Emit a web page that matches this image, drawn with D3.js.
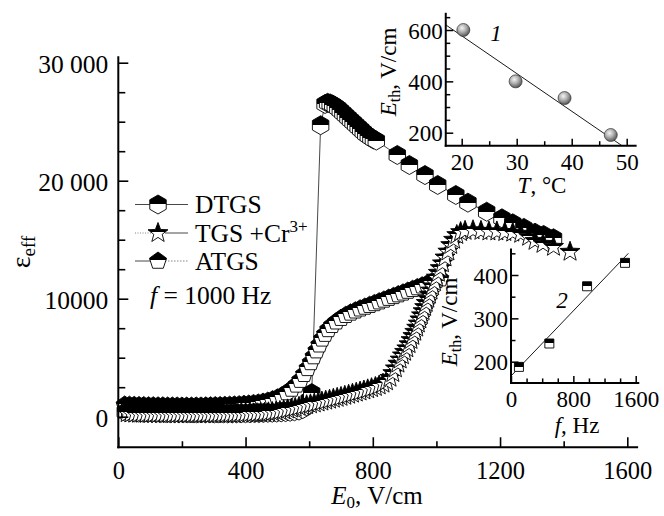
<!DOCTYPE html>
<html><head><meta charset="utf-8">
<script src="https://cdn.jsdelivr.net/npm/d3@7"></script>
<style>
body{margin:0;background:#fff;}
svg{display:block;}
</style></head><body>
<svg id="c" width="664" height="516"></svg>
<script>
// ---------------- data ----------------
// main chart: [E0 (V/cm), eps_eff]
const dtgs = [[22,400],[36,380],[50,360],[64,350],[78,340],[92,340],[106,330],[120,330],[134,320],[148,320],
  [162,310],[176,310],[190,300],[204,300],[218,300],[232,300],[246,290],[260,290],[274,290],[288,290],
  [302,280],[316,290],[330,290],[344,280],[358,280],[372,290],[386,290],[400,300],[414,300],[428,310],
  [442,310],[456,320],[470,330],[484,340],[498,350],[512,370],[526,390],[540,420],[554,460],[568,520],
  [580,650],[592,900],[600,1400],[608,2000],[636,24700],
  [650,26500],[658,26600],[666,26550],[674,26450],[682,26300],[690,26150],[698,25950],[706,25750],[714,25550],
  [722,25350],[730,25150],[738,24950],[746,24750],[754,24550],[762,24350],[770,24150],[778,23950],[786,23800],
  [794,23650],[802,23500],[811,23400],
  [877,22180],[915,21330],[964,20480],[1004,19640],[1061,18790],[1099,18140],[1158,17370],[1206,16810],
  [1240,16390],[1275,16000],[1310,15590],[1337,15400],[1368,15120]];
const tgsCr = [[28,300],[40,280],[52,260],[64,250],[76,250],[88,240],[100,240],[112,240],[124,230],[136,230],
  [148,230],[160,230],[172,220],[184,220],[196,220],[208,220],[220,220],[232,220],[244,220],[256,220],
  [268,230],[280,230],[292,230],[304,230],[316,240],[328,240],[340,240],[352,250],[364,250],[376,260],
  [388,260],[400,270],[412,280],[424,290],[436,300],[448,320],[460,340],[472,370],[484,400],[496,440],
  [508,490],[520,550],[532,620],[544,690],[556,760],[568,840],[580,910],[592,980],[604,1050],[616,1120],
  [628,1200],[640,1280],[652,1360],[664,1440],[676,1520],[688,1600],[700,1680],[712,1770],[724,1860],
  [736,1950],[748,2040],[760,2130],[772,2220],[784,2320],[796,2420],[808,2520],[820,2650],[832,2800],
  [843,3000],[854,3300],[863,3700],[871,4100],[879,4500],[886,4850],[893,5200],[900,5500],[907,5800],
  [914,6150],[920,6500],[926,6850],[932,7200],[938,7550],[943,7900],[948,8250],[953,8600],[958,8950],
  [963,9300],[968,9650],[973,10000],[978,10350],[983,10700],[988,11050],[994,11400],[1000,11800],
  [1006,12200],[1012,12600],[1019,13000],[1027,13500],[1036,14000],[1045,14550],[1054,15000],[1064,15400],
  [1076,15650],[1090,15750],[1115,15800],[1140,15750],[1165,15700],[1190,15700],[1215,15650],[1240,15600],
  [1265,15500],[1290,15250],[1310,14900],[1335,14650],[1368,14400],[1420,13980]];
const atgs = [[20,1000],[35,980],[50,960],[65,950],[80,940],[95,930],[110,930],[125,920],[140,920],[155,910],
  [170,910],[185,910],[200,900],[215,900],[230,900],[245,910],[260,910],[275,920],[290,930],[305,940],
  [320,950],[335,960],[350,980],[365,1000],[380,1020],[395,1050],[410,1080],[425,1120],[440,1170],[455,1240],
  [470,1330],[485,1450],[500,1600],[515,1800],[530,2050],[545,2350],[560,2700],[572,3100],[584,3600],
  [595,4100],[605,4600],[614,5100],[623,5600],[632,6100],[641,6600],[650,7000],[660,7400],[672,7750],
  [685,8050],[700,8350],[715,8600],[730,8800],[745,8980],[760,9150],[775,9300],[790,9450],[805,9600],
  [820,9750],[835,9900],[850,10050],[865,10200],[880,10350],[895,10500],[910,10650],[925,10800],[940,10950],
  [955,11100],[970,11250],[985,11400],[1000,11550],[1012,11700]];
const seriesNames = ["DTGS", "TGS +Cr", "ATGS"];
const freqNote = "= 1000 Hz";
const xTicks = [0, 400, 800, 1200, 1600];
const xMinor = [200, 600, 1000, 1400];
const yTicks = [0, 10000, 20000, 30000];
const yTickLabels = ["0", "10000", "20 000", "30 000"];
const yMinor = [2500, 5000, 7500, 12500, 15000, 17500, 22500, 25000, 27500];
const xExtent = [0, 1634];
const yExtent = [-2590, 30550];

// inset 1: E_th vs T
const in1T = [20.3, 29.8, 38.7, 47.1];
const in1E = [600, 400, 335, 191];
const in1FitT = [17.1, 49.1];
const in1FitE = [620, 150];
const in1XTicks = [20, 30, 40, 50];
const in1XMinor = [25, 35, 45];
const in1YTicks = [200, 400, 600];
const in1YMinor = [250, 300, 350, 450, 500, 550, 650];
const in1XExtent = [17.1, 51.8];
const in1YExtent = [149.4, 667];

// inset 2: E_th vs f
const in2F = [102, 492, 976, 1463];
const in2E = [188, 242, 374, 428];
const in2FitF = [0, 1506];
const in2FitE = [167, 450];
const in2XTicks = [0, 800, 1600];
const in2XMinor = [200, 400, 600, 1000, 1200, 1400];
const in2YTicks = [200, 300, 400];
const in2YMinor = [250, 350, 450];
const in2XExtent = [0, 1646];
const in2YExtent = [151, 461];

// ---------------- drawing ----------------
const FONT = "Liberation Serif";
const svg = d3.select("#c");
const defs = svg.append("defs");
const hg = defs.append("linearGradient").attr("id","half").attr("x1",0).attr("y1",0).attr("x2",0).attr("y2",1);
[["0","#000"],["0.5","#000"],["0.5","#fff"],["1","#fff"]].forEach(s=>hg.append("stop").attr("offset",s[0]).attr("stop-color",s[1]));
const rg = defs.append("radialGradient").attr("id","sph").attr("cx",0.4).attr("cy",0.35).attr("r",0.7);
[["0","#f4f4f4"],["0.45","#b0b0b0"],["1","#4a4a4a"]].forEach(s=>rg.append("stop").attr("offset",s[0]).attr("stop-color",s[1]));

function polyPath(n, r){
  const p = d3.path();
  for(let i=0;i<n;i++){const a=-Math.PI/2+i*2*Math.PI/n; const px=r*Math.cos(a), py=r*Math.sin(a); i?p.lineTo(px,py):p.moveTo(px,py);}
  p.closePath(); return p.toString();
}
function starPath(R, r){
  const p = d3.path();
  for(let i=0;i<10;i++){const a=-Math.PI/2+i*Math.PI/5; const rr=i%2?r:R; const px=rr*Math.cos(a), py=rr*Math.sin(a); i?p.lineTo(px,py):p.moveTo(px,py);}
  p.closePath(); return p.toString();
}
const hexD = polyPath(6, 9.5);
const pentD = polyPath(5, 9);
const starD = starPath(10.5, 4.4);
const sqD = "M-4.5,-4.5H4.5V4.5H-4.5Z";

const x = d3.scaleLinear().domain([0,1600]).range([118.3,627.3]);
const y = d3.scaleLinear().domain([0,30000]).range([416.7,62.7]);

// series lines
const line = d3.line().x(d=>x(d[0])).y(d=>y(d[1]));
const gl = svg.append("g").attr("fill","none");
gl.append("path").datum(atgs).attr("d",line).attr("stroke","#555").attr("stroke-width",0.8).attr("stroke-dasharray","3,2");
gl.append("path").datum(tgsCr).attr("d",line).attr("stroke","#777").attr("stroke-width",0.8).attr("stroke-dasharray","1,1.5");
gl.append("path").datum(dtgs).attr("d",line).attr("stroke","#333").attr("stroke-width",0.9);

function drawMarkers(data, d, cls){
  svg.append("g").attr("class",cls).selectAll("path").data(data).join("path")
    .attr("d", d).attr("transform", p=>`translate(${x(p[0])},${y(p[1])})`)
    .attr("fill","url(#half)").attr("stroke","#000").attr("stroke-width",0.9);
}
drawMarkers(atgs, pentD, "atgs");
drawMarkers(dtgs, hexD, "dtgs");
drawMarkers(tgsCr, starD, "tgs");

// main axes
const axW = 2;
const gx = svg.append("g").attr("transform",`translate(0,${y(yExtent[0])})`);
gx.call(d3.axisBottom(x).tickValues(xTicks).tickSize(-10).tickPadding(14).tickFormat(d3.format("d")));
gx.append("g").call(d3.axisBottom(x).tickValues(xMinor).tickSize(-6).tickFormat(""));
gx.selectAll(".domain").remove();
gx.selectAll("line").attr("stroke","#000").attr("stroke-width",1.6);
gx.selectAll("text").attr("font-size",24.5).attr("fill","#000");
svg.append("line").attr("x1",x(xExtent[0])-1).attr("x2",x(xExtent[1])).attr("y1",y(yExtent[0])).attr("y2",y(yExtent[0])).attr("stroke","#000").attr("stroke-width",axW);

const gy = svg.append("g").attr("transform",`translate(${x(0)},0)`);
gy.call(d3.axisLeft(y).tickValues(yTicks).tickSize(-10).tickPadding(10).tickFormat((d,i)=>yTickLabels[i]));
gy.append("g").call(d3.axisLeft(y).tickValues(yMinor).tickSize(-7).tickFormat(""));
gy.selectAll(".domain").remove();
gy.selectAll("line").attr("stroke","#000").attr("stroke-width",1.6);
gy.selectAll("text").attr("font-size",25.5).attr("fill","#000").attr("dy","0.4em");
svg.append("line").attr("x1",x(0)).attr("x2",x(0)).attr("y1",y(yExtent[0])+1).attr("y2",y(yExtent[1])).attr("stroke","#000").attr("stroke-width",axW);

// axis titles
const xt = svg.append("text").attr("x",377).attr("y",504).attr("text-anchor","middle").attr("font-size",25);
xt.append("tspan").attr("font-style","italic").text("E");
xt.append("tspan").attr("font-size",17).attr("dy",4).text("0");
xt.append("tspan").attr("dy",-4).text(", V/cm");

const yt = svg.append("text").attr("transform","translate(30,252) rotate(-90)").attr("text-anchor","middle").attr("font-size",28);
yt.append("tspan").text("ε");
yt.append("tspan").attr("font-size",19).attr("dy",5).text("eff");

// legend
const lg = svg.append("g").attr("font-size",25.5);
const rows = [{y:204.5, d:hexD, name:seriesNames[0], l:[null,null]},
              {y:233, d:starD, name:seriesNames[1], l:["1,1.5",null]},
              {y:261, d:pentD, name:seriesNames[2], l:[null,"1.5,1.5"]}];
rows.forEach(r=>{
  lg.append("line").attr("x1",135).attr("x2",151).attr("y1",r.y).attr("y2",r.y).attr("stroke",r.l[0]?"#777":"#333").attr("stroke-width",0.9).attr("stroke-dasharray",r.l[0]);
  lg.append("line").attr("x1",165).attr("x2",188).attr("y1",r.y).attr("y2",r.y).attr("stroke",r.l[1]?"#777":"#333").attr("stroke-width",0.9).attr("stroke-dasharray",r.l[1]);
  lg.append("path").attr("d",r.d).attr("transform",`translate(158,${r.y})`).attr("fill","url(#half)").attr("stroke","#000").attr("stroke-width",0.9);
  const t = lg.append("text").attr("x",195).attr("y",r.y+8.5).text(r.name);
  if(r.name==="TGS +Cr") t.append("tspan").attr("font-size",17).attr("dy",-10).text("3+");
});
const fn = lg.append("text").attr("x",150).attr("y",304);
fn.append("tspan").attr("font-style","italic").text("f");
fn.append("tspan").text(" " + freqNote);

// generic inset axes
function insetAxes(sx, sy, xExt, yExt, xT, xM, yT, yM, fs){
  const g = svg.append("g");
  const ax = g.append("g").attr("transform",`translate(0,${sy(yExt[0])})`);
  ax.call(d3.axisBottom(sx).tickValues(xT).tickSize(-7).tickPadding(8).tickFormat(d3.format("d")));
  ax.append("g").call(d3.axisBottom(sx).tickValues(xM).tickSize(-4.5).tickFormat(""));
  const ay = g.append("g").attr("transform",`translate(${sx(xExt[0])},0)`);
  ay.call(d3.axisLeft(sy).tickValues(yT).tickSize(-7.5).tickPadding(3).tickFormat(d3.format("d")));
  ay.append("g").call(d3.axisLeft(sy).tickValues(yM).tickSize(-4.5).tickFormat(""));
  g.selectAll(".domain").remove();
  g.selectAll("line").attr("stroke","#000").attr("stroke-width",1.5);
  g.selectAll("text").attr("font-size",fs).attr("fill","#000");
  ay.selectAll("text").attr("dy","0.36em");
  g.append("line").attr("x1",sx(xExt[0])-1).attr("x2",sx(xExt[1])).attr("y1",sy(yExt[0])).attr("y2",sy(yExt[0])).attr("stroke","#000").attr("stroke-width",2);
  g.append("line").attr("x1",sx(xExt[0])).attr("x2",sx(xExt[0])).attr("y1",sy(yExt[0])+1).attr("y2",sy(yExt[1])).attr("stroke","#000").attr("stroke-width",2);
}
function ethTitle(cx, cy){
  const t = svg.append("text").attr("transform",`translate(${cx},${cy}) rotate(-90)`).attr("text-anchor","middle").attr("font-size",23);
  t.append("tspan").attr("font-style","italic").text("E");
  t.append("tspan").attr("font-size",16).attr("dy",4).text("th");
  t.append("tspan").attr("dy",-4).text(", V/cm");
}

// inset 1
const x1 = d3.scaleLinear().domain([20,50]).range([461.7,626.7]);
const y1 = d3.scaleLinear().domain([200,600]).range([132.7,30]);
insetAxes(x1, y1, in1XExtent, in1YExtent, in1XTicks, in1XMinor, in1YTicks, in1YMinor, 23);
svg.append("line").attr("x1",x1(in1FitT[0])).attr("y1",y1(in1FitE[0])).attr("x2",x1(in1FitT[1])).attr("y2",y1(in1FitE[1])).attr("stroke","#000").attr("stroke-width",0.9);
svg.append("g").selectAll("circle").data(in1T).join("circle")
  .attr("cx",d=>x1(d)).attr("cy",(d,i)=>y1(in1E[i])).attr("r",6.5)
  .attr("fill","url(#sph)").attr("stroke","#333").attr("stroke-width",0.7);
const t1 = svg.append("text").attr("x",542).attr("y",193).attr("text-anchor","middle").attr("font-size",23);
t1.append("tspan").attr("font-style","italic").text("T");
t1.append("tspan").text(", °C");
ethTitle(396, 72);
svg.append("text").attr("x",496).attr("y",41).attr("text-anchor","middle").attr("font-size",23).attr("font-style","italic").text("1");

// inset 2
const x2 = d3.scaleLinear().domain([0,1600]).range([511,635.7]);
const y2 = d3.scaleLinear().domain([200,400]).range([361.7,275]);
insetAxes(x2, y2, in2XExtent, in2YExtent, in2XTicks, in2XMinor, in2YTicks, in2YMinor, 23);
svg.append("line").attr("x1",x2(in2FitF[0])).attr("y1",y2(in2FitE[0])).attr("x2",x2(in2FitF[1])).attr("y2",y2(in2FitE[1])).attr("stroke","#000").attr("stroke-width",0.9);
svg.append("g").selectAll("path").data(in2F).join("path")
  .attr("d",sqD).attr("transform",(d,i)=>`translate(${x2(d)},${y2(in2E[i])})`)
  .attr("fill","url(#half)").attr("stroke","#000").attr("stroke-width",0.9);
const t2 = svg.append("text").attr("x",577).attr("y",433).attr("text-anchor","middle").attr("font-size",23);
t2.append("tspan").attr("font-style","italic").text("f");
t2.append("tspan").text(", Hz");
ethTitle(457, 322);
svg.append("text").attr("x",562).attr("y",308).attr("text-anchor","middle").attr("font-size",23).attr("font-style","italic").text("2");

// serif everywhere (overrides d3 axis sans-serif)
svg.selectAll("g").attr("font-family", FONT);
svg.selectAll("text").attr("font-family", FONT);
</script>
</body></html>
